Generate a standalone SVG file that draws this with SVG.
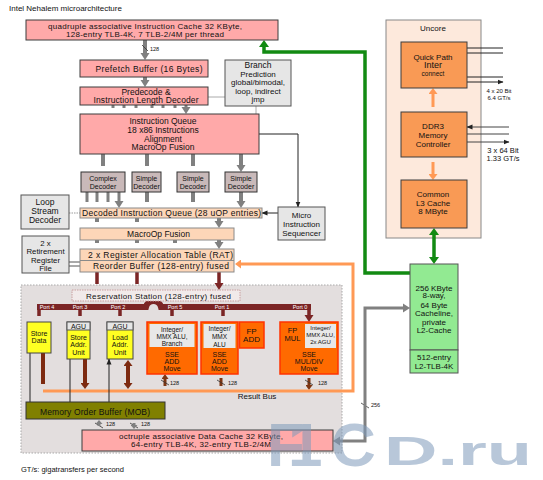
<svg xmlns="http://www.w3.org/2000/svg" width="543" height="480" viewBox="0 0 543 480">
<style>
text{font-family:"Liberation Sans",Arial,sans-serif;fill:#111;text-anchor:middle;font-size:8px}
.st{text-anchor:start}
.f5{font-size:5.5px}.f6{font-size:6px}.f65{font-size:6.5px}.f7{font-size:7px}.f75{font-size:7.5px}.f78{font-size:7.8px}.f85{font-size:8.5px}.f9{font-size:9px}
.wt{fill:#fff}
.pink{fill:#ffa9a9;stroke:#3c3c3c}
.peach{fill:#fdd6b8;stroke:#8a8a8a}
.lg{fill:#e6e6e6;stroke:#555}
.dec{fill:#c9b9b9;stroke:#333}
.org{fill:#f99a55;stroke:#3c3c3c}
.yel{fill:#ffff22;stroke:#444}
.exu{fill:#ff6a00;stroke:#ff3300;stroke-width:1.5}
.l2{fill:#92ea92;stroke:#555}
.ag{fill:none;stroke:#808080;stroke-width:4;marker-end:url(#hg)}
.ag3{fill:none;stroke:#808080;stroke-width:3;marker-end:url(#hg)}
.ar{fill:none;stroke:#7b2525;stroke-width:3.5;marker-end:url(#hr)}
.ab{fill:none;stroke:#7d3513;stroke-width:3;marker-start:url(#hb);marker-end:url(#hb)}
.ab2{fill:none;stroke:#7d2a10;stroke-width:4;marker-end:url(#hb2)}
.tk{fill:none;stroke:#222;stroke-width:1;marker-end:url(#hk)}
.tk2{fill:none;stroke:#444;stroke-width:1;marker-start:url(#hk);marker-end:url(#hk)}
.sl{stroke:#333;stroke-width:.8}
</style>
<defs>
<marker id="hg" markerUnits="userSpaceOnUse" markerWidth="7" markerHeight="10" refX="1" refY="5" orient="auto-start-reverse"><path d="M0,0.5L7,5L0,9.5z" fill="#808080"/></marker>
<marker id="hgs" markerUnits="userSpaceOnUse" markerWidth="4" markerHeight="7" refX="1" refY="3.5" orient="auto-start-reverse"><path d="M0,0L4,3.5L0,7z" fill="#808080"/></marker>
<marker id="hr" markerUnits="userSpaceOnUse" markerWidth="7" markerHeight="10" refX="1" refY="5" orient="auto"><path d="M0,0.5L7,5L0,9.5z" fill="#7b2525"/></marker>
<marker id="hk" markerUnits="userSpaceOnUse" markerWidth="6" markerHeight="6" refX="5.5" refY="3" orient="auto-start-reverse"><path d="M0,0.5L6,3L0,5.5z" fill="#222"/></marker>
<marker id="hgn" markerUnits="userSpaceOnUse" markerWidth="7" markerHeight="10" refX="1" refY="5" orient="auto-start-reverse"><path d="M0,0L7,5L0,10z" fill="#128a12"/></marker>
<marker id="ho" markerUnits="userSpaceOnUse" markerWidth="6" markerHeight="9" refX="1" refY="4.5" orient="auto-start-reverse"><path d="M0,0L6,4.5L0,9z" fill="#ff9955"/></marker>
<marker id="hb" markerUnits="userSpaceOnUse" markerWidth="5" markerHeight="7" refX="1" refY="3.5" orient="auto-start-reverse"><path d="M0,0L5,3.5L0,7z" fill="#7d3513"/></marker>
<marker id="hb2" markerUnits="userSpaceOnUse" markerWidth="6" markerHeight="9" refX="1" refY="4.5" orient="auto-start-reverse"><path d="M0,0L6,4.5L0,9z" fill="#7d2a10"/></marker>
</defs>
<rect width="543" height="480" fill="#fff"/>
<text class="st" x="9" y="11" font-size="8.6">Intel Nehalem microarchitecture</text>

<g id="execution-cluster"><rect x="21" y="285" width="321" height="168" fill="#e3dede" stroke="#a9a9a9" stroke-dasharray="1.5,1.5"/></g>
<g id="uncore"><rect x="386" y="20" width="95" height="218" fill="#fde9dc" stroke="#888"/><text x="433" y="31">Uncore</text></g>

<g id="connectors">
<path class="ag" d="M145,40V54"/>
<path class="ag" d="M145,77V81"/>
<path class="ag3" d="M113,105V108M124,105V108M136,105V108M152,105V108M163,105V108M175,105V108M186,105V108"/>
<path class="ag" d="M103,154V166M147,154V166M193,154V166M241,154V166"/>
<path class="ag3" d="M87,192V202M97,192V202M108,192V202M119,192V202"/>
<path class="ag" d="M147,192V202M193,192V202M241,192V202"/>
<path class="ag" d="M97,218V222M137,218V222M219,218V222"/>
<path class="ag" d="M97,240V243M137,240V243M175,240V243M219,240V243"/>
<path d="M208,97H225M256,106V114" stroke="#aaa" fill="none"/>
<path class="tk" d="M259,134H298V207"/>
<path class="tk" d="M278,213H262"/>
<path d="M69,213H80" stroke="#999" stroke-dasharray="1.5,1" fill="none"/>
<path d="M69,262H80M69,266H80" stroke="#555" fill="none"/>
<path class="ar" d="M97,272V284M137,272V284M219,272V284"/>
<path d="M37,307H146C148,299 159,299 161,307H311" stroke="#7b2525" stroke-width="6" fill="none"/>
<path class="ar" d="M39,305V316M80,307V316M120,307V316M172,307V316M223,307V316M309,305V316"/>
<path class="ab" d="M165,378V386M221,378V386M309,378V386"/>
<path d="M161,380L169,385M217,380L225,385M305,380L313,385M95,423L103,428M130,423L138,428M361,403L369,408M142,45L148,51" class="sl"/>
<path d="M43,391H353V264H240" stroke="#ff9955" stroke-width="3" fill="none" marker-end="url(#ho)"/>
<path class="ab2" d="M43,352V384M85,359V384"/>
<path class="ab2" d="M128,365V384" marker-start="url(#hb2)"/>
<path class="tk" d="M30,352V402M70,359V402M109,402V359"/>
<path d="M99,423V426M134,423V426" stroke="#808080" stroke-width="3" fill="none" marker-start="url(#hgs)" marker-end="url(#hgs)"/>
<path d="M404,308H365V441H339" stroke="#808080" stroke-width="3" fill="none" marker-start="url(#hg)" marker-end="url(#hg)"/>
<path d="M410,273H365V52H264V46" stroke="#128a12" stroke-width="3.5" fill="none" marker-end="url(#hgn)"/>
<path d="M434,234V258" stroke="#128a12" stroke-width="3.5" fill="none" marker-start="url(#hgn)" marker-end="url(#hgn)"/>
<path d="M433,93V107M433,162V175" stroke="#ff9955" stroke-width="3" fill="none" marker-start="url(#ho)" marker-end="url(#ho)"/>
<path class="tk" d="M503,48H467M467,53H503M503,77H467M467,82H503"/>
<path class="tk2" d="M467,127H509M467,134H509M467,142H509"/>
</g>

<g id="icache"><rect class="pink" x="26" y="20" width="252" height="20"/><text x="145" y="28.5" font-size="7.8" textLength="194">quadruple associative Instruction Cache 32 KByte,</text><text x="145" y="37" font-size="7.8" textLength="158">128-entry TLB-4K, 7 TLB-2/4M per thread</text></g>
<text class="st f5" x="150" y="50.5">128</text>
<g id="prefetch"><rect class="pink" x="80" y="60" width="128" height="17"/><text class="f85" x="149" y="71.5" textLength="107">Prefetch Buffer (16 Bytes)</text></g>
<g id="predecode"><rect class="pink" x="80" y="87" width="128" height="18"/><text class="f85" x="146" y="94.5">Predecode &amp;</text><text class="f85" x="146" y="103" textLength="105">Instruction Length Decoder</text></g>
<g id="branch"><rect class="lg" x="225" y="60" width="66" height="46"/><text class="f85" x="258" y="68">Branch</text><text x="258" y="76.5" fill="#444">Prediction</text><text x="258" y="85">global/bimodal,</text><text x="258" y="94">loop, indirect</text><text x="258" y="102">jmp</text></g>
<g id="iqueue"><rect class="pink" x="80" y="114" width="179" height="40"/><text class="f85" x="163" y="124">Instruction Queue</text><text class="f85" x="163" y="133">18 x86 Instructions</text><text class="f85" x="163" y="141.5">Alignment</text><text class="f85" x="163" y="150">MacroOp Fusion</text></g>
<g id="dec-complex"><rect class="dec" x="81" y="172" width="44" height="20"/><text class="f7" x="103" y="180.5">Complex</text><text class="f7" x="103" y="188.5">Decoder</text></g>
<g id="dec-simple1"><rect class="dec" x="132" y="172" width="29" height="20"/><text class="f7" x="146.5" y="180.5">Simple</text><text class="f7" x="146.5" y="188.5">Decoder</text></g>
<g id="dec-simple2"><rect class="dec" x="177" y="172" width="32" height="20"/><text class="f7" x="193" y="180.5">Simple</text><text class="f7" x="193" y="188.5">Decoder</text></g>
<g id="dec-simple3"><rect class="dec" x="225" y="172" width="32" height="20"/><text class="f7" x="241" y="180.5">Simple</text><text class="f7" x="241" y="188.5">Decoder</text></g>
<g id="loop-stream"><rect class="lg" x="21" y="195" width="48" height="34" stroke="#777"/><text class="f85" x="45" y="205">Loop</text><text class="f85" x="45" y="214">Stream</text><text class="f85" x="45" y="223">Decoder</text></g>
<g id="diq"><rect class="peach" x="80" y="208" width="182" height="10"/><text class="f85" x="171.5" y="216" textLength="179">Decoded Instruction Queue (28 uOP entries)</text></g>
<g id="msrom"><rect class="lg" x="278" y="207" width="47" height="33"/><text x="301.5" y="218">Micro</text><text x="301.5" y="227">Instruction</text><text x="301.5" y="235.5">Sequencer</text></g>
<g id="macroop"><rect class="peach" x="80" y="228" width="154" height="12"/><text class="f85" x="158.5" y="236.5">MacroOp Fusion</text></g>
<g id="rrf"><rect class="lg" x="22" y="236" width="47" height="37" stroke="#777"/><text class="f78" x="45.5" y="245.5">2 x</text><text class="f78" x="45.5" y="254">Retirement</text><text class="f78" x="45.5" y="262.5">Register</text><text class="f78" x="45.5" y="271">File</text></g>
<g id="rat-rob"><rect class="peach" x="80" y="249" width="154" height="23"/><line x1="80" y1="260.5" x2="234" y2="260.5" stroke="#8a8a8a"/><text class="f85" x="160.5" y="257.5" textLength="145">2 x Register Allocation Table (RAT)</text><text class="f85" x="161" y="268.5" textLength="136">Reorder Buffer (128-entry) fused</text></g>
<g id="rs"><rect x="72" y="290" width="168" height="11" fill="#f1eaea" stroke="#c9a0a0" stroke-dasharray="1.5,1"/><text x="158.5" y="298.5" textLength="145">Reservation Station (128-entry) fused</text></g>
<g id="port-labels"><text class="f5 wt" x="47" y="309">Port 4</text><text class="f5 wt" x="80" y="309">Port 3</text><text class="f5 wt" x="118" y="309">Port 2</text><text class="f5 wt" x="175" y="309">Port 5</text><text class="f5 wt" x="222" y="309">Port 1</text><text class="f5 wt" x="300" y="309">Port 0</text></g>

<g id="store-data"><rect class="yel" x="27" y="322" width="24" height="31"/><text class="f7" x="39" y="335.5">Store</text><text class="f7" x="39" y="343">Data</text></g>
<g id="store-addr"><rect class="yel" x="67" y="322" width="23" height="37"/><rect class="lg" x="67" y="322" width="23" height="8" stroke="#444"/><text class="f7" x="78.5" y="328.5">AGU</text><text class="f7" x="78.5" y="339.5">Store</text><text class="f7" x="78.5" y="347">Addr.</text><text class="f7" x="78.5" y="354.5">Unit</text></g>
<g id="load-addr"><rect class="yel" x="107" y="322" width="26" height="37"/><rect class="lg" x="107" y="322" width="26" height="8" stroke="#444"/><text class="f7" x="120" y="328.5">AGU</text><text class="f7" x="120" y="339.5">Load</text><text class="f7" x="120" y="347">Addr.</text><text class="f7" x="120" y="354.5">Unit</text></g>
<g id="unit-port5"><rect class="exu" x="147" y="322" width="50" height="52"/><rect x="149.5" y="324" width="45" height="23" fill="#e8e8e8"/><text class="f65" x="172" y="331.5" fill="#333">Integer/</text><text class="f65" x="172" y="339" fill="#333">MMX ALU,</text><text class="f65" x="172" y="346" fill="#333">Branch</text><text class="f7" x="172" y="357">SSE</text><text class="f7" x="172" y="364">ADD</text><text class="f7" x="172" y="371">Move</text></g>
<g id="unit-port1"><rect class="exu" x="201" y="322" width="37" height="52"/><rect x="203.5" y="324" width="32" height="24" fill="#e8e8e8"/><text class="f65" x="219.5" y="331" fill="#333">Integer/</text><text class="f65" x="219.5" y="339" fill="#333">MMX</text><text class="f65" x="219.5" y="346.5" fill="#333">ALU</text><text class="f7" x="219.5" y="357">SSE</text><text class="f7" x="219.5" y="364">ADD</text><text class="f7" x="219.5" y="371">Move</text></g>
<g id="fp-add"><rect class="exu" x="239.5" y="322" width="24.5" height="26"/><text x="251.5" y="333.5">FP</text><text x="251.5" y="341.5">ADD</text></g>
<g id="unit-port0"><rect class="exu" x="280" y="322" width="58" height="52"/><rect x="305" y="324" width="31" height="24" fill="#e8e8e8"/><text class="f75" x="292.5" y="332.5">FP</text><text class="f75" x="292.5" y="340.5">MUL</text><text class="f6" x="320.5" y="329.5" fill="#333">Integer/</text><text class="f6" x="320.5" y="336.5" fill="#333">MMX ALU,</text><text class="f6" x="320.5" y="344">2x AGU</text><text class="f7" x="309" y="357">SSE</text><text class="f7" x="309" y="364">MUL/DIV</text><text class="f7" x="309" y="371">Move</text></g>
<text class="st f5" x="170" y="384.5">128</text><text class="st f5" x="228" y="384.5">128</text><text class="st f5" x="318" y="384.5">128</text>
<text x="257" y="399">Result Bus</text>
<g id="mob"><rect x="26" y="402" width="139" height="17" fill="#808000" stroke="#333"/><text class="f85" x="95" y="414.5" textLength="110">Memory Order Buffer (MOB)</text></g>
<text class="st f5" x="106" y="425.5">128</text><text class="st f5" x="141" y="425.5">128</text>
<g id="dcache"><rect class="pink" x="82" y="430" width="251" height="21"/><text x="201" y="438.5" textLength="164">octruple associative Data Cache 32 KByte,</text><text x="201" y="447" textLength="140">64-entry TLB-4K, 32-entry TLB-2/4M</text></g>
<text class="st f5" x="371" y="407">256</text>

<g id="l2"><rect class="l2" x="410" y="264" width="48" height="86"/><rect class="l2" x="410" y="350" width="48" height="23"/><text x="434" y="290.5">256 KByte</text><text x="434" y="298">8-way,</text><text x="434" y="307.5">64 Byte</text><text x="434" y="315.5">Cacheline,</text><text x="434" y="324.5">private</text><text x="434" y="332.5">L2-Cache</text><text x="434" y="359.5">512-entry</text><text x="434" y="368.5">L2-TLB-4K</text></g>
<g id="qpi"><rect class="org" x="401" y="42" width="66" height="46"/><text x="433" y="59.5">Quick Path</text><text class="f9" x="433" y="68">Inter</text><text class="f65" x="433" y="76">connect</text></g>
<g id="ddr3"><rect class="org" x="401" y="112" width="66" height="45"/><text x="433" y="128.5">DDR3</text><text x="433" y="137.5">Memory</text><text x="433" y="146.5">Controller</text></g>
<g id="l3"><rect class="org" x="401" y="180" width="66" height="48"/><text x="433" y="197">Common</text><text x="433" y="205.5">L3 Cache</text><text x="433" y="214">8 MByte</text></g>
<text class="f6" x="499" y="93">4 x 20 Bit</text><text class="f6" x="499" y="100">6.4 GT/s</text>
<text class="f75" x="503" y="152.5">3 x 64 Bit</text><text class="f75" x="503" y="161">1.33 GT/s</text>
<text class="st f75" x="21" y="471.5">GT/s: gigatransfers per second</text>

<text font-weight="bold" style="fill:#7f9bbb;text-anchor:start" opacity="0.55"><tspan x="267" y="466" font-size="62">F</tspan><tspan dx="-17" font-size="62">1</tspan><tspan x="331" font-size="62">C</tspan><tspan x="384" y="465" font-size="40" textLength="148" lengthAdjust="spacingAndGlyphs">D.ru</tspan></text>
</svg>
